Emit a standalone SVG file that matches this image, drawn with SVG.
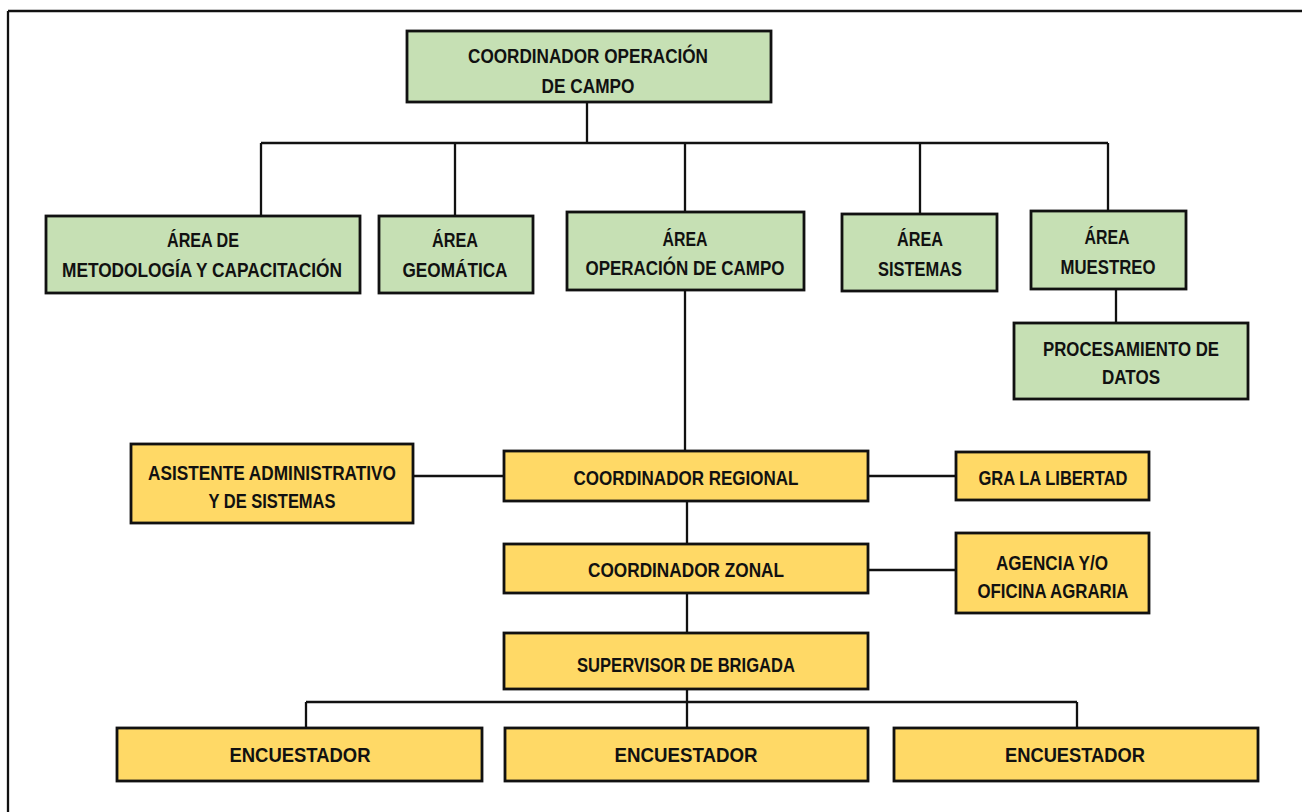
<svg xmlns="http://www.w3.org/2000/svg" width="1302" height="812" viewBox="0 0 1302 812">
<style>
.g{fill:#C6E0B4;stroke:#111111;stroke-width:2.8}
.y{fill:#FFD966;stroke:#111111;stroke-width:2.8}
.t{font-family:"Liberation Sans",Arial,sans-serif;font-weight:bold;font-size:21px;fill:#111111;text-anchor:middle}
.c{stroke:#111111;stroke-width:2.3;fill:none}
</style>
<rect width="1302" height="812" fill="#ffffff"/>
<g id="frame"><path class="c" d="M8,11H1302M8,11V812" stroke-width="2.4"/></g>
<g id="connectors">
<path class="c" d="M587,102V143M261,143H1108M261,143V216M455,143V216M685,143V212M920,143V214M1108,143V211"/>
<path class="c" d="M1116,289V323"/>
<path class="c" d="M685,290V451"/>
<path class="c" d="M413,476H504M868,476H956"/>
<path class="c" d="M687,501V544M868,570H956"/>
<path class="c" d="M687,593V633M687,689V728M306,702H1077M306,702V728M1077,702V728"/>
</g>
<g id="n-coord-op"><rect class="g" x="407" y="31" width="364" height="71"/>
<text class="t" x="588" y="63" textLength="240" lengthAdjust="spacingAndGlyphs">COORDINADOR OPERACIÓN</text>
<text class="t" x="588" y="93" textLength="93" lengthAdjust="spacingAndGlyphs">DE CAMPO</text></g>
<g id="n-metodologia"><rect class="g" x="46" y="216" width="314" height="77"/>
<text class="t" x="203" y="247" textLength="72" lengthAdjust="spacingAndGlyphs">ÁREA DE</text>
<text class="t" x="202" y="277" textLength="280" lengthAdjust="spacingAndGlyphs">METODOLOGÍA Y CAPACITACIÓN</text></g>
<g id="n-geomatica"><rect class="g" x="379" y="216" width="154" height="77"/>
<text class="t" x="455" y="247" textLength="46" lengthAdjust="spacingAndGlyphs">ÁREA</text>
<text class="t" x="455" y="277" textLength="105" lengthAdjust="spacingAndGlyphs">GEOMÁTICA</text></g>
<g id="n-area-op"><rect class="g" x="567" y="212" width="237" height="78"/>
<text class="t" x="685" y="246" textLength="45" lengthAdjust="spacingAndGlyphs">ÁREA</text>
<text class="t" x="685" y="275" textLength="199" lengthAdjust="spacingAndGlyphs">OPERACIÓN DE CAMPO</text></g>
<g id="n-sistemas"><rect class="g" x="842" y="214" width="155" height="77"/>
<text class="t" x="920" y="246" textLength="46" lengthAdjust="spacingAndGlyphs">ÁREA</text>
<text class="t" x="920" y="276" textLength="84" lengthAdjust="spacingAndGlyphs">SISTEMAS</text></g>
<g id="n-muestreo"><rect class="g" x="1031" y="211" width="155" height="78"/>
<text class="t" x="1107" y="244" textLength="45" lengthAdjust="spacingAndGlyphs">ÁREA</text>
<text class="t" x="1108" y="274" textLength="95" lengthAdjust="spacingAndGlyphs">MUESTREO</text></g>
<g id="n-procesamiento"><rect class="g" x="1014" y="323" width="234" height="76"/>
<text class="t" x="1131" y="356" textLength="176" lengthAdjust="spacingAndGlyphs">PROCESAMIENTO DE</text>
<text class="t" x="1131" y="384" textLength="58" lengthAdjust="spacingAndGlyphs">DATOS</text></g>
<g id="n-asistente"><rect class="y" x="131" y="444" width="282" height="79"/>
<text class="t" x="272" y="480" textLength="248" lengthAdjust="spacingAndGlyphs">ASISTENTE ADMINISTRATIVO</text>
<text class="t" x="272" y="508" textLength="127" lengthAdjust="spacingAndGlyphs">Y DE SISTEMAS</text></g>
<g id="n-regional"><rect class="y" x="504" y="451" width="364" height="50"/>
<text class="t" x="686" y="485" textLength="225" lengthAdjust="spacingAndGlyphs">COORDINADOR REGIONAL</text></g>
<g id="n-gra"><rect class="y" x="956" y="452" width="193" height="48"/>
<text class="t" x="1053" y="485" textLength="149" lengthAdjust="spacingAndGlyphs">GRA LA LIBERTAD</text></g>
<g id="n-zonal"><rect class="y" x="504" y="544" width="364" height="49"/>
<text class="t" x="686" y="577" textLength="196" lengthAdjust="spacingAndGlyphs">COORDINADOR ZONAL</text></g>
<g id="n-agencia"><rect class="y" x="956" y="533" width="193" height="80"/>
<text class="t" x="1052" y="570" textLength="112" lengthAdjust="spacingAndGlyphs">AGENCIA Y/O</text>
<text class="t" x="1053" y="598" textLength="151" lengthAdjust="spacingAndGlyphs">OFICINA AGRARIA</text></g>
<g id="n-supervisor"><rect class="y" x="504" y="633" width="364" height="56"/>
<text class="t" x="686" y="672" textLength="218" lengthAdjust="spacingAndGlyphs">SUPERVISOR DE BRIGADA</text></g>
<g id="n-enc1"><rect class="y" x="117" y="728" width="365" height="53"/>
<text class="t" x="300" y="762" textLength="141" lengthAdjust="spacingAndGlyphs">ENCUESTADOR</text></g>
<g id="n-enc2"><rect class="y" x="505" y="728" width="363" height="53"/>
<text class="t" x="686" y="762" textLength="143" lengthAdjust="spacingAndGlyphs">ENCUESTADOR</text></g>
<g id="n-enc3"><rect class="y" x="894" y="728" width="364" height="53"/>
<text class="t" x="1075" y="762" textLength="140" lengthAdjust="spacingAndGlyphs">ENCUESTADOR</text></g>
</svg>
